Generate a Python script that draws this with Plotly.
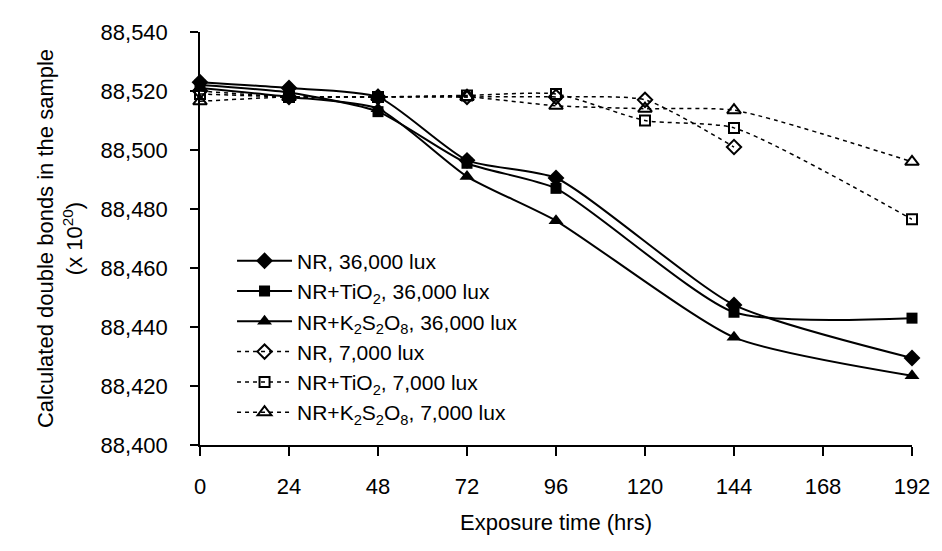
import plotly.graph_objects as go

# Exposure time (hrs)
hours_36 = [0, 24, 48, 72, 96, 144, 192]
hours_7 = [0, 24, 48, 72, 96, 120, 144, 192]
hours_nr_7 = [0, 24, 48, 72, 96, 120, 144]

# 36,000 lux series
nr_36 = [88523, 88521, 88518, 88496.5, 88490.5, 88447.5, 88429.5]
tio2_36 = [88522, 88519.5, 88513, 88495.5, 88487, 88445, 88443]
k2s2o8_36 = [88521, 88518, 88514, 88491, 88476, 88436.5, 88423.5]

# 7,000 lux series
nr_7 = [88520, 88518, 88518, 88518, 88518, 88517, 88501]
tio2_7 = [88519, 88518, 88518, 88518.5, 88519, 88510, 88507.5, 88476.5]
k2s2o8_7 = [88516.5, 88518, 88518, 88518, 88515, 88514, 88513.5, 88496]

x_ticks = [0, 24, 48, 72, 96, 120, 144, 168, 192]
y_ticks = [88400, 88420, 88440, 88460, 88480, 88500, 88520, 88540]

FONT = "Liberation Sans, Arial, sans-serif"

fig = go.Figure()

solid = [
    ("NR, 36,000 lux", nr_36, "diamond", 13),
    ("NR+TiO<sub>2</sub>, 36,000 lux", tio2_36, "square", 11),
    ("NR+K<sub>2</sub>S<sub>2</sub>O<sub>8</sub>, 36,000 lux", k2s2o8_36, "triangle-up", 13),
]
for name, vals, sym, size in solid:
    fig.add_trace(go.Scatter(
        x=hours_36, y=vals, name=name, mode="lines+markers",
        line=dict(color="black", width=2, shape="spline", smoothing=0.6),
        marker=dict(symbol=sym, size=size, color="black"),
        cliponaxis=False,
    ))

dashed = [
    ("NR, 7,000 lux", hours_nr_7, nr_7, "diamond-open", 11),
    ("NR+TiO<sub>2</sub>, 7,000 lux", hours_7, tio2_7, "square-open", 10),
    ("NR+K<sub>2</sub>S<sub>2</sub>O<sub>8</sub>, 7,000 lux", hours_7, k2s2o8_7, "triangle-up-open", 12),
]
for name, xs, vals, sym, size in dashed:
    fig.add_trace(go.Scatter(
        x=xs, y=vals, name=name, mode="lines+markers",
        line=dict(color="black", width=1.5, dash="4px,4px", shape="spline", smoothing=0.6),
        marker=dict(symbol=sym, size=size, color="black", line=dict(width=2, color="black")),
        cliponaxis=False,
    ))

fig.update_layout(
    width=934, height=535,
    margin=dict(l=192, r=24, t=16, b=92),
    paper_bgcolor="white", plot_bgcolor="white",
    font=dict(family=FONT, size=22, color="black"),
    showlegend=True,
    legend=dict(
        x=0.045, y=0.495, xanchor="left", yanchor="top",
        bgcolor="rgba(0,0,0,0)", borderwidth=0,
        font=dict(family=FONT, size=21, color="black"),
        tracegroupgap=0, itemwidth=55,
    ),
    xaxis=dict(
        range=[0, 192], tickvals=x_ticks, ticktext=[str(v) for v in x_ticks],
        showline=True, linecolor="black", linewidth=1.5,
        ticks="outside", ticklen=9, tickcolor="black", tickwidth=1.5,
        showgrid=False, zeroline=False,
        ticklabelstandoff=12, ticklabeloverflow="allow",
        title=dict(text="Exposure time (hrs)", standoff=16, font=dict(size=22)),
    ),
    yaxis=dict(
        range=[88400, 88540], tickvals=y_ticks,
        ticktext=[f"{v:,}" for v in y_ticks],
        showline=True, linecolor="black", linewidth=1.5,
        ticks="outside", ticklen=8, tickcolor="black", tickwidth=1.5,
        showgrid=False, zeroline=False,
        ticklabelstandoff=18,
        title=dict(text="Calculated double bonds in the sample<br>(x 10<sup>20</sup>)",
                   standoff=12, font=dict(size=22)),
    ),
)

fig.write_html("out.html")
